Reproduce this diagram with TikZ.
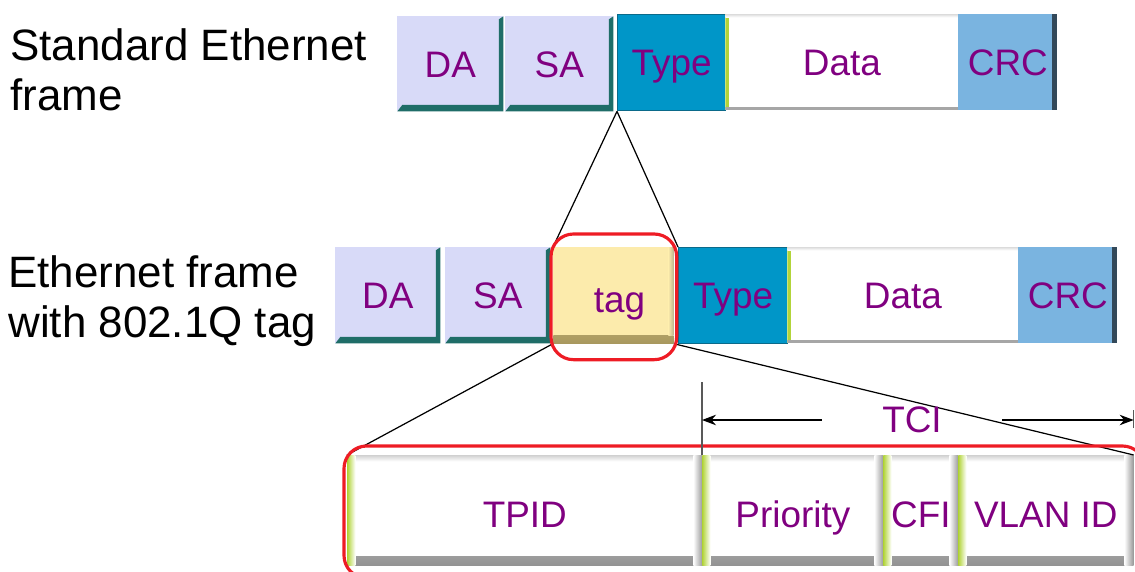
\documentclass[tikz,border=0pt]{standalone}
\usepackage{fontspec}
\setmainfont{Liberation Sans}
\usetikzlibrary{arrows.meta}
\definecolor{lbltext}{HTML}{800080}
\definecolor{macfill}{HTML}{D8DAF8}
\definecolor{macedge}{HTML}{1F6D68}
\definecolor{typefill}{HTML}{0096C8}
\definecolor{typeedge}{HTML}{0B6A8A}
\definecolor{crcfill}{HTML}{7AB4E0}
\definecolor{crcedge}{HTML}{33495A}
\definecolor{tagfill}{HTML}{FCEBAC}
\definecolor{tagedge}{HTML}{A8985E}
\definecolor{lime}{HTML}{B2D43A}
\definecolor{ringred}{HTML}{EE1C25}
\begin{document}
\begin{tikzpicture}[x=0.02cm,y=-0.02cm,
    fld/.style = {rectangle, inner sep=0pt, anchor=north west, text=lbltext,
                  text height=15pt, text depth=0pt,
                  font=\fontsize{21}{21}\selectfont},
    mac/.style = {fld, fill=macfill, path picture={
        \fill[macedge] (path picture bounding box.south west)
            -- (path picture bounding box.south east)
            -- (path picture bounding box.north east)
            -- ([shift={(-0.09cm,-0.06cm)}]path picture bounding box.north east)
            -- ([shift={(-0.09cm,0.13cm)}]path picture bounding box.south east)
            -- ([shift={(0.1cm,0.13cm)}]path picture bounding box.south west) -- cycle;}},
    typ/.style = {fld, fill=typefill, draw=typeedge, line width=0.8pt},
    dat/.style = {fld, fill=white, path picture={
        \fill[lime] (path picture bounding box.south west)
            rectangle ([xshift=0.08cm]path picture bounding box.north west);
        \shade[top color=gray!25, bottom color=white] (path picture bounding box.north west)
            rectangle ([yshift=-0.06cm]path picture bounding box.north east);
        \fill[gray!70] (path picture bounding box.south west)
            rectangle ([yshift=0.06cm]path picture bounding box.south east);}},
    crc/.style = {fld, fill=crcfill, path picture={
        \fill[crcedge] (path picture bounding box.south east)
            rectangle ([xshift=-0.1cm]path picture bounding box.north east);}},
    tg/.style = {fld, fill=tagfill, path picture={
        \shade[top color=tagfill, bottom color=tagedge] ([yshift=0.16cm]path picture bounding box.south west)
            rectangle (path picture bounding box.south east);
        \shade[left color=tagfill, right color=tagedge!70] ([xshift=-0.1cm]path picture bounding box.north east)
            rectangle ([yshift=0.16cm]path picture bounding box.south east);}},
    cell/.style = {fld, fill=white, text height=20pt, path picture={
        \shade[top color=white, bottom color=gray!85] ([yshift=0.18cm]path picture bounding box.south west)
            rectangle (path picture bounding box.south east);
        \shade[top color=gray!35, bottom color=white] (path picture bounding box.north west)
            rectangle ([yshift=-0.12cm]path picture bounding box.north east);
        \shade[left color=white, right color=gray!80] ([xshift=-0.18cm]path picture bounding box.north east)
            rectangle (path picture bounding box.south east);
        \shade[left color=lime, right color=white] (path picture bounding box.north west)
            rectangle ([xshift=0.16cm]path picture bounding box.south west);}},
    ring/.style = {draw=ringred, line width=1.8pt, rounded corners=0.45cm},
    lbl/.style = {inner sep=0pt, anchor=north west, align=left,
                  font=\fontsize{25}{28.5}\selectfont},
    link/.style = {draw, line width=0.7pt},
    dim/.style = {line width=0.7pt, -{Stealth[length=8pt,width=6pt]}}]
    \useasboundingbox (0,0) rectangle (1135,571);
    \clip (0,0) rectangle (1135,571);

    % labels on the left
    \node[lbl] (stdlbl) at (10,28) {Standard Ethernet\\frame};
    \node[lbl] (qlbl) at (8,255) {Ethernet frame\\with 802.1Q tag};

    % standard frame
    \node[mac, minimum width=2.12cm, minimum height=1.9cm] (da1) at (397,16) {DA};
    \node[mac, minimum width=2.16cm, minimum height=1.9cm] (sa1) at (505,16) {SA};
    \node[typ, minimum width=2.16cm, minimum height=1.92cm] (type1) at (617,14) {Type};
    \node[dat, minimum width=4.66cm, minimum height=1.92cm] (data1) at (725,14) {Data};
    \node[crc, minimum width=1.98cm, minimum height=1.92cm] (crc1) at (958,14) {CRC};

    % tagged frame
    \node[mac, minimum width=2.10cm, minimum height=1.92cm] (da2) at (335,247) {DA};
    \node[mac, minimum width=2.10cm, minimum height=1.92cm] (sa2) at (445,247) {SA};
    \node[tg, minimum width=2.40cm, minimum height=1.92cm, text height=19pt] (tag) at (553,247) {\hspace{7pt}tag};
    \node[typ, minimum width=2.18cm, minimum height=1.92cm] (type2) at (678,247) {Type};
    \node[dat, minimum width=4.62cm, minimum height=1.92cm] (data2) at (787,247) {Data};
    \node[crc, minimum width=1.98cm, minimum height=1.92cm] (crc2) at (1018,247) {CRC};

    % tag fields
    \node[cell, minimum width=7.10cm, minimum height=2.2cm] (tpid) at (347,455) {TPID};
    \node[cell, minimum width=3.62cm, minimum height=2.2cm] (prio) at (702,455) {Priority};
    \node[cell, minimum width=1.50cm, minimum height=2.2cm] (cfi) at (883,455) {CFI};
    \node[cell, minimum width=3.50cm, minimum height=2.2cm] (vlan) at (958,455) {VLAN ID};

    % zoom lines
    \draw[link] (type1.south west) -- (tag.north west);
    \draw[link] (type1.south west) -- (type2.north west);
    \draw[link] (tag.south west) -- (tpid.north west);
    \draw[link] (tag.south east) -- (vlan.north east);

    % red rings
    \draw[ring] ([shift={(-0.04cm,0.26cm)}]tag.north west) rectangle ([shift={(0.06cm,-0.32cm)}]tag.south east);
    \draw[ring] ([shift={(-0.06cm,0.18cm)}]tpid.north west) rectangle (1145,578);

    % TCI span
    \node[text=lbltext, font=\fontsize{21}{21}\selectfont, inner xsep=1.2cm, inner ysep=0pt] (tci) at (912,420) {TCI};
    \draw[gray!70!black, line width=0.8pt] (prio.north west) -- ++(0,-73);
    \draw[gray!70!black, line width=0.8pt] ([yshift=0.54cm]vlan.north east) -- ([yshift=0.9cm]vlan.north east);
    \draw[dim] (tci.west) -- (tci.west -| prio.north west);
    \draw[dim] (tci.east) -- (tci.east -| vlan.north east);
\end{tikzpicture}
\end{document}
